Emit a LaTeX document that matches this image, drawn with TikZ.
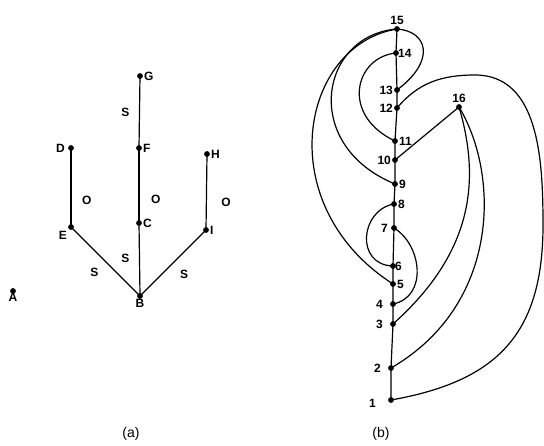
\documentclass[tikz,border=0pt]{standalone}
\usepackage{fontspec}
\setmainfont{Liberation Sans}
\usetikzlibrary{calc}

\begin{document}
\begin{tikzpicture}[x=1pt, y=1pt, line width=1.2pt,
    every node/.style={font=\fontsize{12}{14}\selectfont\bfseries, inner sep=1.5pt},
    every label/.style={font=\fontsize{12}{14}\selectfont\bfseries, inner sep=1.5pt},
    label distance=2pt,
    caption/.style={font=\fontsize{14}{16}\selectfont}]
    \useasboundingbox (0,0) rectangle (544,445);

    % (a) 木
    \coordinate[label = right:G](G)at(140,369);
    \coordinate[label = right:F](F)at(139,297);
    \coordinate[label = right:C](C)at(139,222);
    \coordinate[label = {[label distance=1pt]below:B}](B)at(140,149);
    \coordinate[label = {[label distance=4pt]left:D}](D)at(71,297);
    \coordinate[label = {[label distance=3pt]below left:E}](E)at(71,218);
    \coordinate[label = right:H](H)at(207,291);
    \coordinate[label = right:I](I)at(206,215);
    \coordinate[label = {[label distance=0pt]below:A}](A)at(13,154);

    \path[draw](G)to node[midway, left=8pt]{S}(F);
    \path[draw](F)to node[pos=0.69, right=10pt]{O}(C);
    \path[draw](C)to node[pos=0.48, left=8pt]{S}(B);
    \path[draw](D)to node[pos=0.66, right=9pt]{O}(E);
    \path[draw](H)to node[pos=0.63, right=13pt]{O}(I);
    \path[draw](E)to node[midway, below left=5pt]{S}(B);
    \path[draw](B)to node[midway, below right=5pt]{S}(I);

    \foreach \p in {G,F,C,B,D,E,H,I,A}
        \fill(\p)circle(2.9pt);

    % (b) 縦の列
    \coordinate[label = {[label distance=2pt]above:15}](n15)at(397,416);
    \coordinate[label = {[label distance=0pt]right:14}](n14)at(396,392);
    \coordinate[label = {[label distance=2pt]left:13}](n13)at(397,355);
    \coordinate[label = {[label distance=2pt]left:12}](n12)at(397,337);
    \coordinate[label = right:11](n11)at(395,304);
    \coordinate[label = {[label distance=2pt]left:10}](n10)at(395,285);
    \coordinate[label = right:9](n9)at(395,261);
    \coordinate[label = right:8](n8)at(394,241);
    \coordinate[label = {[label distance=4pt]left:7}](n7)at(394,217);
    \coordinate[label = {[label distance=0pt]right:6}](n6)at(393,179);
    \coordinate[label = right:5](n5)at(393,161);
    \coordinate[label = {[label distance=8pt]left:4}](n4)at(393,141);
    \coordinate[label = {[label distance=8pt]left:3}](n3)at(393,121);
    \coordinate[label = {[label distance=8pt]left:2}](n2)at(391,77);
    \coordinate[label = {[label distance=13pt, yshift=-3pt]left:1}](n1)at(391,45);
    \coordinate[label = {[label distance=2pt]above:16}](n16)at(459,338);
    \coordinate(T)at(475,370); % 右上の頂
    \coordinate(R)at(543,220); % 右端

    \path[draw](n15)--(n14)--(n13)--(n12)--(n11)--(n10)--(n9)--(n8)
        --(n7)--(n6)--(n5)--(n4)--(n3)--(n2)--(n1);

    % 左右のループ
    \path[draw](n15).. controls +(30,-2) and +(40,30) ..(n13);
    \path[draw](n14).. controls +(-41,-4) and +(-55,26) ..(n11);
    \path[draw](n15).. controls +(-77,-6) and +(-95,39) ..(n9);
    \path[draw](n15).. controls +(-97,-16) and +(-123,79) ..(n5);
    \path[draw](n8).. controls +(-34,-6) and +(-38,1) ..(n6);
    \path[draw](n7).. controls +(28,-17) and +(35,7) ..(n4);

    % 16からの辺
    \path[draw](n16)to(n10);
    \path[draw](n16).. controls +(23,-78) and +(77,69) ..(n3);
    \path[draw](n16).. controls +(41,-68) and +(109,63) ..(n2);

    % 外側の大きな曲線
    \path[draw](n12)to[out=50, in=180](T)to[out=0, in=90](R)
        to[out=-90, in=10, looseness=1.2](n1);

    \foreach \p in {n1,n2,n3,n4,n5,n6,n7,n8,n9,n10,n11,n12,n13,n14,n15,n16}
        \fill(\p)circle(2.9pt);

    % 見出し
    \node[caption](capA)at(131,11){(a)};
    \node[caption](capB)at(381,11){(b)};
\end{tikzpicture}
\end{document}
